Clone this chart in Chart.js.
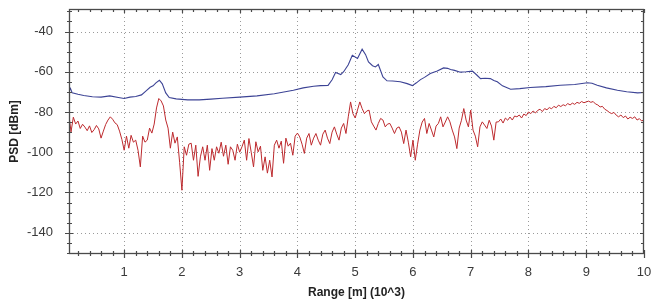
<!DOCTYPE html>
<html>
<head>
<meta charset="utf-8">
<script src="https://cdn.jsdelivr.net/npm/chart.js@4.4.1/dist/chart.umd.min.js"></script>
<style>
html,body{margin:0;padding:0;background:#fff;}
#wrap{width:651px;height:302px;}
</style>
</head>
<body>
<div id="wrap"><canvas id="c" width="651" height="302"></canvas></div>
<script>
// ---- data ----
const xTickValues = [1, 2, 3, 4, 5, 6, 7, 8, 9, 10];
const yTickValues = [-140, -120, -100, -80, -60, -40];

// Blue trace (upper PSD)
const blueRange = [0.05,0.07,0.1,0.2,0.3,0.45,0.6,0.75,0.9,1.0,
  1.1,1.2,1.3,1.38,1.45,1.5,1.55,1.61,1.66,1.72,
  1.78,1.9,2.1,2.3,2.5,2.7,3.0,3.3,3.6,3.93,
  4.1,4.28,4.4,4.53,4.6,4.66,4.75,4.8,4.88,4.95,
  5.04,5.12,5.18,5.23,5.3,5.35,5.4,5.48,5.55,5.65,
  5.78,5.9,5.99,6.06,6.13,6.2,6.3,6.42,6.53,6.6,
  6.65,6.72,6.82,6.92,7.03,7.1,7.17,7.25,7.34,7.4,
  7.46,7.55,7.69,7.85,8.03,8.3,8.55,8.8,9.02,9.1,
  9.19,9.35,9.54,9.7,9.89,10.0];
const bluePsd = [-69.5,-68.3,-70.5,-71.2,-71.8,-72.4,-72.6,-72.0,-72.8,-73.3,
  -72.6,-72.3,-71.5,-69.5,-67.7,-67.0,-65.5,-64.2,-66.0,-70.5,
  -72.8,-73.5,-74.0,-74.0,-73.6,-73.2,-72.6,-72.0,-70.9,-69.2,
  -68.0,-67.2,-66.9,-66.8,-64.0,-60.4,-61.4,-60.0,-56.5,-51.8,
  -53.4,-48.8,-51.5,-55.1,-57.0,-57.6,-56.4,-62.6,-64.5,-64.6,
  -65.0,-65.9,-66.9,-65.5,-63.9,-62.8,-60.9,-59.6,-58.1,-58.3,
  -58.9,-59.3,-60.2,-60.0,-59.7,-61.5,-63.4,-63.2,-63.4,-64.3,
  -65.0,-67.0,-68.7,-68.4,-67.8,-67.4,-66.7,-66.3,-65.5,-65.7,
  -66.7,-68.0,-69.2,-69.9,-70.5,-70.3];

// Red trace (lower PSD), sampled every 0.04 (x10^3 m) from 0.04 to 10.00
const redStart = 0.04;
const redStep = 0.04;
const redPsd = [
  -80.6,-89.9,-82.6,-86.0,-84.5,-88.2,-86.1,-87.5,-89.3,-86.9,-90.2,-88.8,-86.7,-88.4,-93.0,-89.5,-86.2,-84.0,-82.4,-83.6,-85.4,-86.3,-89.5,-93.6,-99.0,
  -92.0,-98.0,-91.6,-95.0,-94.0,-99.0,-107.3,-92.0,-95.0,-94.0,-88.0,-90.5,-86.0,-78.0,-73.3,-74.5,-77.0,-84.0,-88.0,-98.0,-90.0,-95.5,-92.4,-105.0,-118.9,
  -97.3,-101.5,-96.0,-95.5,-104.0,-96.5,-112.0,-102.3,-97.3,-104.0,-96.5,-109.0,-98.2,-104.0,-97.3,-100.5,-95.0,-102.0,-96.5,-106.0,-97.3,-99.0,-104.0,-96.0,-100.0,
  -97.3,-94.0,-104.0,-93.2,-100.0,-107.3,-94.8,-99.8,-97.0,-109.0,-102.3,-110.4,-104.0,-112.3,-96.5,-94.0,-98.0,-94.5,-105.5,-93.0,-97.0,-95.5,-101.5,-92.0,-90.5,
  -92.4,-96.0,-100.6,-93.0,-90.7,-96.5,-93.0,-90.7,-94.0,-96.5,-91.0,-89.0,-93.0,-95.7,-90.0,-87.4,-91.0,-94.0,-88.0,-85.7,-90.7,-82.4,-75.0,-80.8,-83.0,
  -79.0,-75.0,-78.3,-80.8,-79.5,-79.1,-84.9,-87.0,-89.0,-85.7,-83.2,-84.0,-87.4,-86.0,-85.7,-88.0,-90.7,-88.0,-87.4,-90.0,-95.7,-89.0,-95.0,-102.3,-94.0,
  -104.0,-96.0,-89.0,-85.0,-83.2,-90.7,-85.7,-89.0,-92.4,-87.0,-85.7,-82.4,-87.4,-85.0,-82.4,-84.9,-89.0,-92.4,-98.2,-88.0,-84.1,-78.3,-84.0,-87.4,-79.1,
  -89.0,-92.0,-97.3,-87.4,-84.9,-86.5,-88.2,-84.1,-87.0,-94.0,-85.0,-84.9,-83.5,-85.5,-83.0,-84.1,-82.5,-84.0,-82.0,-82.4,-81.5,-83.0,-81.0,-81.8,-80.0,
  -80.8,-79.5,-80.5,-79.2,-78.6,-79.8,-78.3,-78.9,-77.8,-78.4,-77.2,-77.9,-76.6,-77.3,-76.4,-76.9,-75.8,-76.5,-75.6,-76.2,-75.2,-75.7,-74.8,-75.4,-75.0,
  -74.6,-75.2,-74.8,-76.0,-76.5,-77.5,-77.2,-78.6,-79.3,-80.2,-80.8,-80.2,-81.6,-82.4,-81.5,-82.8,-82.0,-83.5,-82.6,-83.2,-82.4,-84.0,-83.3,-84.5,-83.8
];

const xTitle = 'Range [m] (10^3)';
const yTitle = 'PSD [dBm]';

// ---- build ----
const blueData = blueRange.map((x, i) => ({x: x, y: bluePsd[i]}));
const redData = redPsd.map((y, i) => ({x: +(redStart + i * redStep).toFixed(2), y: y}));

const AXIS_COLOR = '#4a4a4a';
const GRID_COLOR = '#9a9a9a';

function minorValues(min, max, step) {
  const out = [];
  const start = Math.ceil(min / step - 1e-9) * step;
  for (let v = start; v <= max + 1e-9; v += step) out.push(+v.toFixed(4));
  return out;
}

function zeroPad(s) { s.paddingTop = 0; s.paddingBottom = 0; s.paddingLeft = 0; s.paddingRight = 0; }

const framePlugin = {
  id: 'framePlugin',
  beforeDatasetsDraw(chart) {
    const {ctx, chartArea: a, scales: {x, y}} = chart;
    ctx.save();
    ctx.strokeStyle = GRID_COLOR;
    ctx.lineWidth = 1;
    ctx.setLineDash([1, 3]);
    xTickValues.forEach(v => {
      const px = Math.round(x.getPixelForValue(v)) + 0.5;
      if (px > a.right - 1) return;
      ctx.beginPath(); ctx.moveTo(px, a.top); ctx.lineTo(px, a.bottom); ctx.stroke();
    });
    yTickValues.forEach(v => {
      const py = Math.round(y.getPixelForValue(v)) + 0.5;
      ctx.beginPath(); ctx.moveTo(a.left, py); ctx.lineTo(a.right, py); ctx.stroke();
    });
    ctx.restore();
  },
  afterDatasetsDraw(chart) {
    const {ctx, chartArea: a, scales: {x, y}} = chart;
    ctx.save();
    ctx.strokeStyle = AXIS_COLOR;
    ctx.setLineDash([]);
    ctx.lineWidth = 1.3;
    ctx.strokeRect(a.left + 0.5, a.top + 0.5, a.right - a.left - 1, a.bottom - a.top - 1);
    ctx.lineWidth = 1.2;
    minorValues(0.2, 10, 0.2).forEach(v => {
      const px = Math.round(x.getPixelForValue(v)) + 0.5;
      const major = Math.abs(v - Math.round(v)) < 1e-6;
      ctx.beginPath();
      ctx.moveTo(px, a.bottom - (major ? 4 : 3)); ctx.lineTo(px, a.bottom + (major ? 4 : 2));
      ctx.moveTo(px, a.top); ctx.lineTo(px, a.top + (major ? 4 : 3));
      ctx.stroke();
    });
    minorValues(y.min, y.max, 5).forEach(v => {
      const py = Math.round(y.getPixelForValue(v)) + 0.5;
      const major = Math.abs(v / 20 - Math.round(v / 20)) < 1e-6;
      ctx.beginPath();
      ctx.moveTo(a.left - (major ? 4 : 2), py); ctx.lineTo(a.left + (major ? 4 : 3), py);
      ctx.moveTo(a.right, py); ctx.lineTo(a.right - (major ? 4 : 3), py);
      ctx.stroke();
    });
    ctx.restore();
  }
};

new Chart(document.getElementById('c'), {
  type: 'line',
  data: {
    datasets: [
      {label: 'red', data: redData, borderColor: '#bd2a2e', borderWidth: 1, pointRadius: 0, tension: 0, fill: false},
      {label: 'blue', data: blueData, borderColor: '#3c4395', borderWidth: 1.1, pointRadius: 0, tension: 0, fill: false}
    ]
  },
  options: {
    responsive: false,
    animation: false,
    events: [],
    layout: {padding: {top: 9, right: 7, left: 0, bottom: 0}},
    plugins: {legend: {display: false}, tooltip: {enabled: false}},
    scales: {
      x: {
        type: 'linear',
        min: 0.045,
        max: 10,
        afterBuildTicks: s => { s.ticks = xTickValues.map(v => ({value: v})); },
        afterFit: s => { s.height = 48; zeroPad(s); },
        grid: {display: false, drawTicks: false},
        border: {display: false},
        ticks: {
          padding: 11,
          color: '#3a3a3a',
          font: {family: '"Liberation Sans", Arial, sans-serif', size: 13},
          maxRotation: 0,
          autoSkip: false,
          callback: v => String(v)
        },
        title: {
          display: true,
          text: xTitle,
          color: '#222',
          font: {family: '"Liberation Sans", Arial, sans-serif', size: 12, weight: 'bold'},
          padding: {top: 0, bottom: 2}
        }
      },
      y: {
        type: 'linear',
        min: -150.6,
        max: -28.8,
        afterBuildTicks: s => { s.ticks = yTickValues.map(v => ({value: v})); },
        afterFit: s => { s.width = 69; zeroPad(s); },
        grid: {display: false, drawTicks: false},
        border: {display: false},
        ticks: {
          padding: 16,
          color: '#3a3a3a',
          font: {family: '"Liberation Sans", Arial, sans-serif', size: 13},
          callback: v => String(v)
        },
        title: {
          display: true,
          text: yTitle,
          color: '#222',
          font: {family: '"Liberation Sans", Arial, sans-serif', size: 12, weight: 'bold'},
          padding: {top: 7, bottom: 0}
        }
      }
    }
  },
  plugins: [framePlugin]
});
</script>
</body>
</html>
